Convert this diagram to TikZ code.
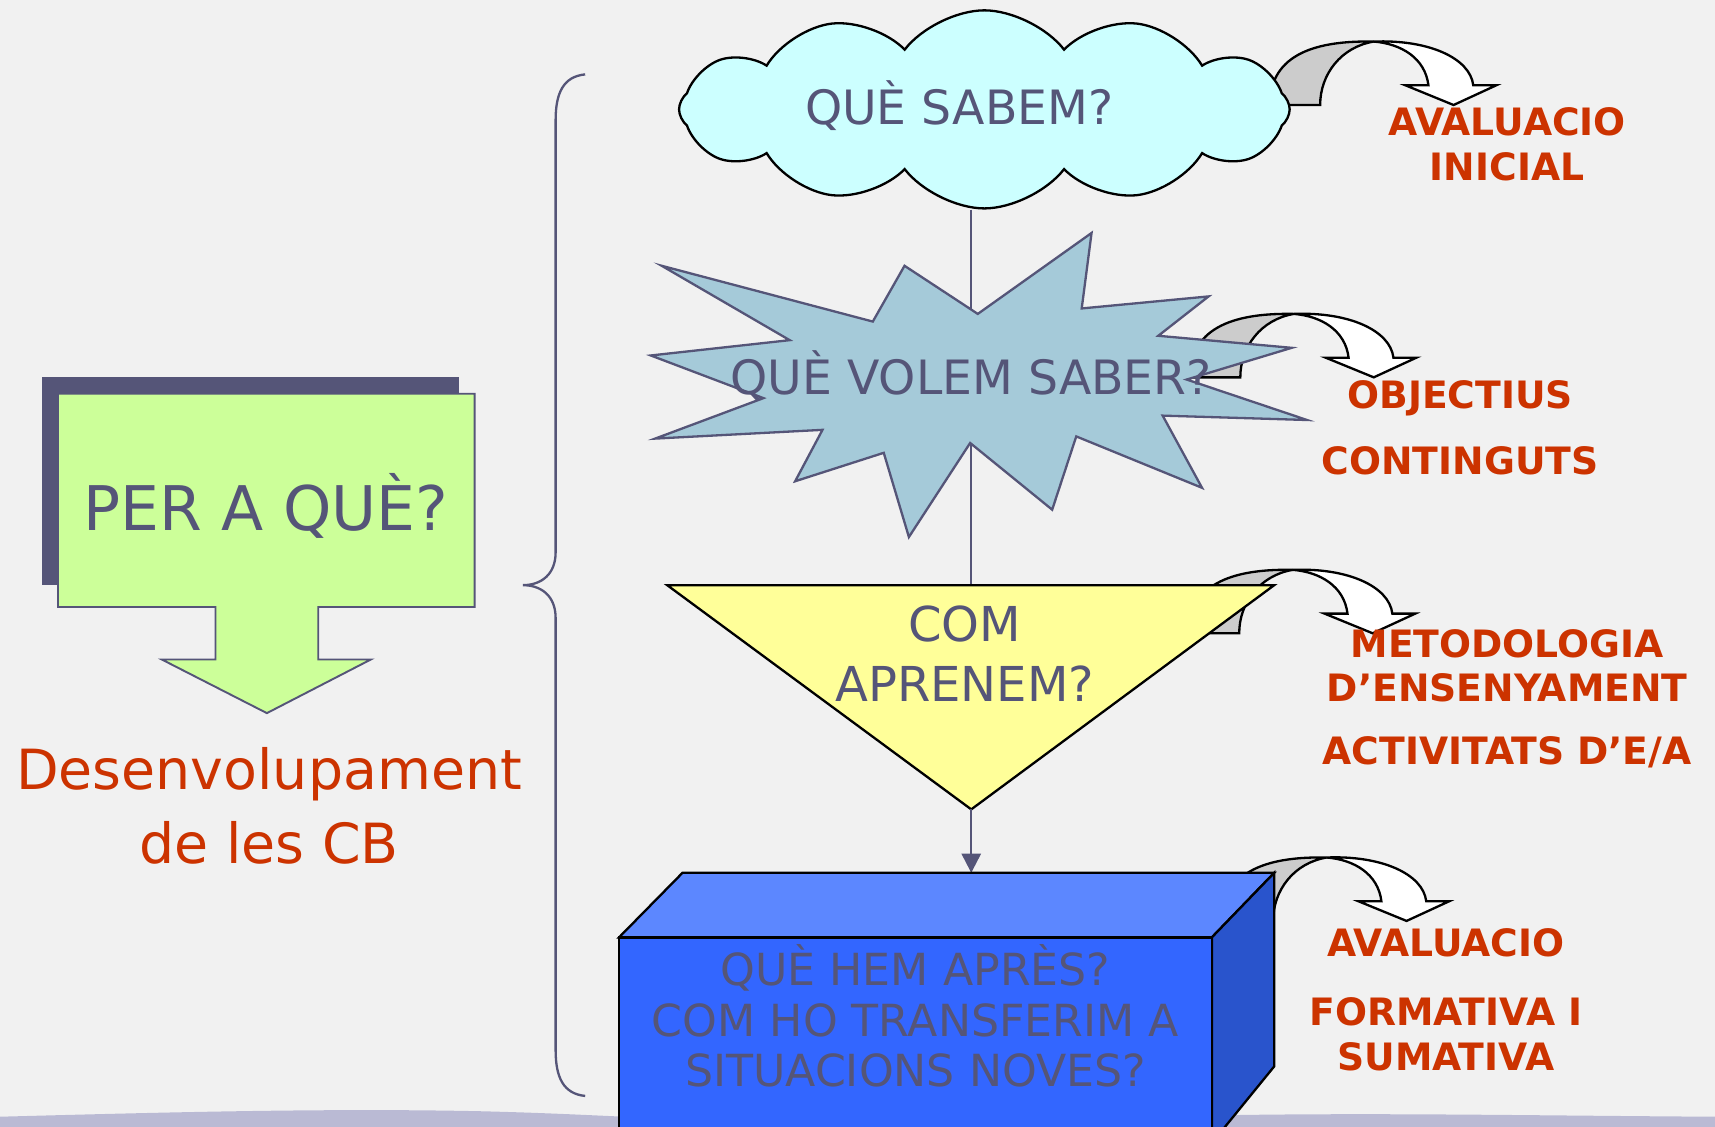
\documentclass[tikz,border=0pt]{standalone}
\usepackage{fontspec}
\setmainfont{DejaVu Sans}
\usepackage{tikz}
\usetikzlibrary{shapes.symbols, arrows.meta}
\definecolor{slate}{RGB}{85,85,120}
\definecolor{paper}{RGB}{241,241,241}
\definecolor{limegreen}{RGB}{204,255,153}
\definecolor{skycyan}{RGB}{204,255,255}
\definecolor{starblue}{RGB}{165,202,217}
\definecolor{paleyellow}{RGB}{255,255,153}
\definecolor{boxfront}{RGB}{51,102,255}
\definecolor{boxtop}{RGB}{92,135,255}
\definecolor{boxside}{RGB}{41,84,204}
\definecolor{rustred}{RGB}{204,51,0}
\definecolor{bandgray}{RGB}{186,186,212}

\newcommand{\bentarrow}[1]{%
  \begin{scope}[shift={#1}]
    \draw[blackedge, fill=gray!40] (-95,58) .. controls (-95,10) and (-50,-1) .. (0,0) .. controls (-30,5) and (-49,30) .. (-49,58) -- cycle;
    \draw[blackedge, fill=white] (0,0) .. controls (50,-2) and (88,15) .. (91,40) -- (112,40) -- (73,58) -- (29,40) -- (50,40) .. controls (47,15) and (25,2) .. (0,0) -- cycle;
  \end{scope}}

\begin{document}
\begin{tikzpicture}[x=0.01cm, y=-0.01cm,
    comic/.style={text=slate, inner sep=0pt, align=center},
    redlabel/.style={text=rustred, inner sep=0pt, align=center, font=\bfseries\fontsize{9.8}{11.5}\selectfont},
    joinline/.style={draw=slate, line width=0.6pt},
    blackedge/.style={draw=black, line width=0.6pt}]
    \fill[paper] (0,0) rectangle (1568,1030);
    \clip (0,0) rectangle (1568,1030);
    \fill[bandgray] (0,1021) .. controls (150,1017) and (300,1013) .. (440,1016) .. controls (520,1018) and (560,1021) .. (600,1022) -- (600,1040) -- (0,1040) -- cycle;
    \fill[bandgray] (1100,1020) .. controls (1250,1017) and (1400,1020) .. (1568,1021) -- (1568,1040) -- (1100,1040) -- cycle;

    \fill[slate] (38,345) rectangle (420,535);
    \draw[draw=slate, line width=0.5pt, fill=limegreen] (53,360) -- (434,360) -- (434,555) -- (291,555) -- (291,603) -- (339,603) -- (244,652) -- (148,603) -- (197,603) -- (197,555) -- (53,555) -- cycle;
    \node[comic, font=\fontsize{16}{19}\selectfont] (perque) at (243,463) {PER A QUÈ?};
    \node[comic, text=rustred, font=\fontsize{14.4}{19.3}\selectfont] (desenv) at (246,737) {Desenvolupament\\de les CB};

    \draw[joinline] (535,68) .. controls (515,70) and (508,85) .. (508,110) -- (508,505) .. controls (508,525) and (495,535) .. (478,535) .. controls (495,535) and (508,545) .. (508,565) -- (508,960) .. controls (508,985) and (515,1000) .. (535,1002);

    \bentarrow{(1256,38)}
    \bentarrow{(1183,287)}
    \bentarrow{(1182,521)}
    \bentarrow{(1213,784)}

    \coordinate (comtop) at (888,535);
    \coordinate (comtip) at (888,740);
    \coordinate (boxback) at (888,798);
    \node[cloud, cloud puffs=12, cloud puff arc=105, aspect=3.1, minimum width=5.58cm, minimum height=1.81cm, blackedge, fill=skycyan] (sabem) at (900,100) {};
    \draw[joinline] (sabem.south -| comtop) -- (comtop);
    \node[comic, font=\fontsize{12.3}{15}\selectfont] (sabemtxt) at (877,97) {QUÈ SABEM?};

    \draw[draw=slate, line width=0.6pt, fill=starblue] (605,243) -- (798,294) -- (827,243) -- (894,287) -- (998,213) -- (989,282) -- (1105,271) -- (1059,307) -- (1181,318) -- (1085,347) -- (1195,384) -- (1063,380) -- (1099,446) -- (984,399) -- (962,466) -- (887,405) -- (831,491) -- (808,414) -- (727,440) -- (752,393) -- (599,401) -- (698,364) -- (595,325) -- (722,311) -- cycle;
    \node[comic, font=\fontsize{12.3}{15}\selectfont] (volem) at (888,343) {QUÈ VOLEM SABER?};

    \draw[blackedge, fill=paleyellow] (610,535) -- (1165,535) -- (comtip) -- cycle;
    \node[comic, font=\fontsize{12.5}{15.6}\selectfont] (aprenem) at (882,598) {COM\\APRENEM?};
    \draw[joinline, -{Triangle[length=5pt, width=5pt]}] (comtip) -- (boxback);

    \draw[blackedge, fill=boxtop] (566,857) -- (624,798) -- (1165,798) -- (1108,857) -- cycle;
    \draw[blackedge, fill=boxside] (1108,857) -- (1165,798) -- (1165,975) -- (1108,1045) -- cycle;
    \draw[blackedge, fill=boxfront] (566,857) rectangle (1108,1045);
    \node[comic, font=\fontsize{11.5}{13.1}\selectfont] (hemapres) at (837,929) {QUÈ HEM APRÈS?\\COM HO TRANSFERIM A\\SITUACIONS NOVES?};

    \node[redlabel] (inicial) at (1378,132) {AVALUACIO\\INICIAL};
    \node[redlabel, font=\bfseries\fontsize{9.8}{17}\selectfont] (objectius) at (1335,391) {OBJECTIUS\\CONTINGUTS};
    \node[redlabel] (metodologia) at (1378,639) {METODOLOGIA\\D’ENSENYAMENT\\[5pt]ACTIVITATS D’E/A};
    \node[redlabel] (sumativa) at (1322,914) {AVALUACIO\\[6.5pt]FORMATIVA I\\SUMATIVA};
\end{tikzpicture}
\end{document}
